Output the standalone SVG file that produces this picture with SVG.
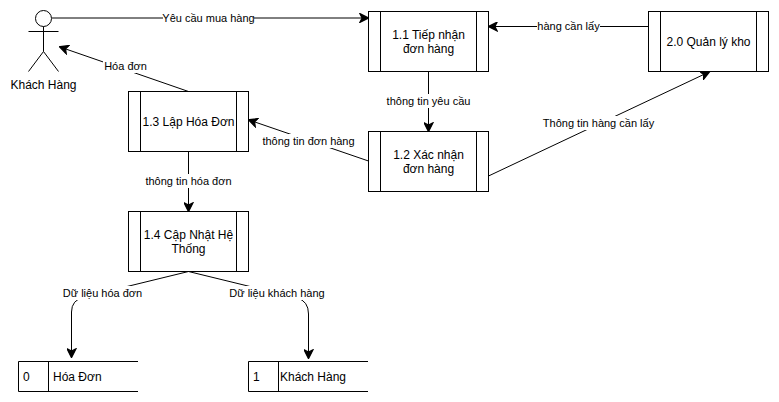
<svg xmlns="http://www.w3.org/2000/svg" width="779" height="402" viewBox="0 0 779 402">
<style>
text{font-family:"Liberation Sans",Arial,Helvetica,sans-serif;fill:#000}
.n{font-size:12px;text-anchor:middle}
.s{font-size:12px}
.l{font-size:11px;text-anchor:middle}
.b{fill:#fff;stroke:#000;stroke-width:1}
.c{fill:none;stroke:#000;stroke-width:1;marker-end:url(#a)}
.bg{fill:#fff;stroke:none}
.ln{fill:none;stroke:#000;stroke-width:1}
</style>
<defs>
<marker id="a" markerUnits="userSpaceOnUse" markerWidth="10" markerHeight="10" refX="7" refY="4" orient="auto" viewBox="0 0 8 8"><path d="M0.5 0.5L7.5 4L0.5 7.5L2.3 4Z" fill="#000" stroke="#000" stroke-width="1"/></marker>
</defs>
<rect width="779" height="402" fill="#fff"/>
<g id="connectors">
<path class="c" d="M52 18H368"/>
<path class="c" d="M648.500 26.500H489"/>
<path class="c" d="M428.500 71.500V131"/>
<path class="c" d="M488.500 176L709 72"/>
<path class="c" d="M368.500 161L249 120"/>
<path class="c" d="M188.500 91.500L60 47"/>
<path class="c" d="M188.500 151.500V211"/>
<path class="c" d="M188.500 271.500L84 297Q71.500 300 71.500 312V357"/>
<path class="c" d="M188.500 271.500L297 298Q308.500 301 308.500 314V358"/>
<rect class="bg" x="163" y="11" width="91" height="14"/>
<text class="l" x="208.500" y="22">Yêu cầu mua hàng</text>
<rect class="bg" x="537" y="19" width="63" height="14"/>
<text class="l" x="568.500" y="30">hàng cần lấy</text>
<rect class="bg" x="386" y="94" width="85" height="14"/>
<text class="l" x="428.500" y="105">thông tin yêu cầu</text>
<rect class="bg" x="542" y="116" width="113" height="14"/>
<text class="l" x="598.500" y="127">Thông tin hàng cần lấy</text>
<rect class="bg" x="261" y="134" width="95" height="14"/>
<text class="l" x="308.500" y="145">thông tin đơn hàng</text>
<rect class="bg" x="103" y="59" width="45" height="14"/>
<text class="l" x="125.500" y="70">Hóa đơn</text>
<rect class="bg" x="144" y="174" width="89" height="14"/>
<text class="l" x="188.500" y="185">thông tin hóa đơn</text>
<rect class="bg" x="62" y="286" width="81" height="14"/>
<text class="l" x="102.500" y="297">Dữ liệu hóa đơn</text>
<rect class="bg" x="229" y="286" width="96" height="14"/>
<text class="l" x="277" y="297">Dữ liệu khách hàng</text>
</g>
<g id="actor">
<circle class="ln" cx="43.500" cy="18.500" r="8"/>
<path class="ln" d="M43.500 26.500V51.500M28.500 31.500H58.500M43.500 51.500L28.500 71.500M43.500 51.500L58.500 71.500"/>
<text class="n" x="43.500" y="89">Khách Hàng</text>
</g>
<g id="n11">
<rect class="b" x="368.500" y="11.500" width="120" height="60"/>
<path class="ln" d="M380.500 11.500V71.500M476.500 11.500V71.500"/>
<text class="n" x="428.500" y="39">1.1 Tiếp nhận</text>
<text class="n" x="428.500" y="53">đơn hàng</text>
</g>
<g id="n12">
<rect class="b" x="368.500" y="131.500" width="120" height="60"/>
<path class="ln" d="M380.500 131.500V191.500M476.500 131.500V191.500"/>
<text class="n" x="428.500" y="159">1.2 Xác nhận</text>
<text class="n" x="428.500" y="173">đơn hàng</text>
</g>
<g id="n20">
<rect class="b" x="648.500" y="11.500" width="120" height="60"/>
<path class="ln" d="M660.500 11.500V71.500M756.500 11.500V71.500"/>
<text class="n" x="708.500" y="46">2.0 Quản lý kho</text>
</g>
<g id="n13">
<rect class="b" x="128.500" y="91.500" width="120" height="60"/>
<path class="ln" d="M140.500 91.500V151.500M236.500 91.500V151.500"/>
<text class="n" x="188.500" y="126">1.3 Lập Hóa Đơn</text>
</g>
<g id="n14">
<rect class="b" x="128.500" y="211.500" width="120" height="60"/>
<path class="ln" d="M140.500 211.500V271.500M236.500 211.500V271.500"/>
<text class="n" x="188.500" y="239">1.4 Cập Nhật Hệ</text>
<text class="n" x="188.500" y="253">Thống</text>
</g>
<g id="d0">
<path class="ln" d="M138 361.500H18.500V391.500H138M48.500 361.500V391.500"/>
<text class="s" x="23" y="381">0</text>
<text class="s" x="53" y="381">Hóa Đơn</text>
</g>
<g id="d1">
<path class="ln" d="M368 361.500H248.500V391.500H368M278.500 361.500V391.500"/>
<text class="s" x="253" y="381">1</text>
<text class="s" x="280" y="381">Khách Hàng</text>
</g>
</svg>
